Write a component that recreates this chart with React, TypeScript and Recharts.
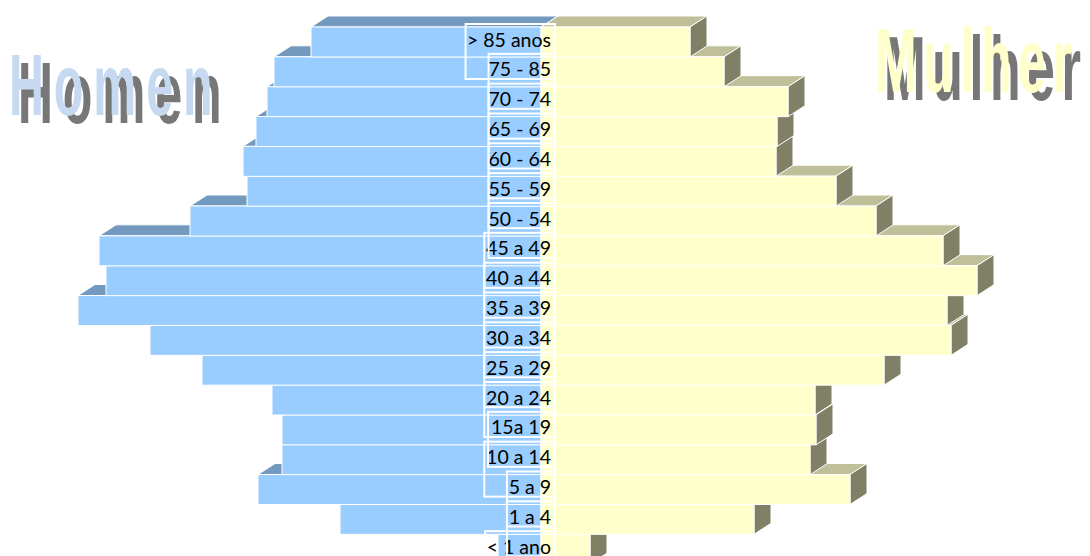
import React from 'react';
import { BarChart, Bar, XAxis, YAxis, LabelList } from 'recharts';

// faixas etárias, da mais nova para a mais velha
const ageGroups = [
  '< 1 ano', '1 a 4', '5 a 9', '10 a 14', '15a 19', '20 a 24', '25 a 29', '30 a 34', '35 a 39',
  '40 a 44', '45 a 49', '50 - 54', '55 - 59', '60 - 64', '65 - 69', '70 - 74', '75 - 85', '> 85 anos',
];
const homens = [43, 201, 283, 259, 259, 269, 339, 391, 463, 435, 442, 351, 294, 298, 285, 274, 267, 230];
const mulheres = [49, 213, 309, 269, 275, 274, 343, 410, 406, 436, 402, 335, 295, 235, 236, 247, 183, 149];

const data = ageGroups.map((age, i) => ({
  age,
  homens: -homens[i],
  mulheres: mulheres[i],
}));

const DX = 17;
const DY = -11;

function box(props: any) {
  const { x, y, width, height } = props;
  return {
    left: Math.min(x, x + width),
    top: Math.min(y, y + height),
    w: Math.abs(width),
    h: Math.abs(height),
  };
}

function MaleBar(props: any) {
  const { left, top, w, h } = box(props);
  return (
    <g>
      <polygon
        points={`${left},${top} ${left + w},${top} ${left + w + DX},${top + DY} ${left + DX},${top + DY}`}
        fill="#7399BF"
        stroke="#fff"
        strokeWidth={1}
      />
      <rect x={left} y={top} width={w} height={h} fill="#99CCFF" stroke="#fff" strokeWidth={1} />
    </g>
  );
}

function FemaleBar(props: any) {
  const { left, top, w, h } = box(props);
  const r = left + w;
  return (
    <g>
      <polygon
        points={`${left},${top} ${r},${top} ${r + DX},${top + DY} ${left + DX},${top + DY}`}
        fill="#BFBF99"
        stroke="#fff"
        strokeWidth={1}
      />
      <polygon
        points={`${r},${top} ${r + DX},${top + DY} ${r + DX},${top + h + DY} ${r},${top + h}`}
        fill="#808066"
        stroke="#fff"
        strokeWidth={1}
      />
      <rect x={left} y={top} width={w} height={h} fill="#FFFFCC" stroke="#fff" strokeWidth={1} />
    </g>
  );
}

const FONT = 19.5;
const charW: Record<string, number> = { ' ': 0.193, '-': 0.29, a: 0.51, n: 0.56, o: 0.56, s: 0.42 };
const textWidth = (s: string) =>
  s.split('').reduce((sum, c) => sum + (charW[c] ?? 0.58), 0) * FONT;

function AgeLabel(props: any) {
  const { x, y, height, value } = props;
  const top = Math.min(y, y + height);
  const cy = top + Math.abs(height) / 2 - 3;
  const ax = x + 10;
  const tw = textWidth(String(value));
  return (
    <g>
      <rect x={ax - tw - 4} y={top - 3} width={tw + 8} height={55} fill="none" stroke="#fff" strokeWidth={2} />
      <text x={ax} y={cy} textAnchor="end" dominantBaseline="central" fontFamily="Lato" fontSize={FONT} fill="#000">
        {value}
      </text>
    </g>
  );
}

function Title({ x, y, label, fill, size, spacing }: any) {
  const common = {
    fontFamily: 'Liberation Sans',
    fontWeight: 'bold',
    fontSize: size,
    letterSpacing: spacing,
  };
  return (
    <g>
      <text transform={`translate(${x + 9},${y + 8}) scale(0.55,1)`} fill="#777777" {...common}>
        {label}
      </text>
      <text transform={`translate(${x},${y}) scale(0.55,1)`} fill={fill} {...common}>
        {label}
      </text>
    </g>
  );
}

export default function App() {
  return (
    <div style={{ position: 'absolute', left: 0, top: 0, width: 1090, height: 556, overflow: 'hidden', background: '#fff' }}>
      <BarChart
        width={1090}
        height={566}
        data={data}
        layout="vertical"
        stackOffset="sign"
        barCategoryGap={0}
        barGap={0}
        margin={{ top: 27, right: 49, left: 41, bottom: 2 }}
      >
        <XAxis type="number" domain={[-500, 500]} hide />
        <YAxis type="category" dataKey="age" reversed hide />
        <Title x={9} y={115} label="Homen" fill="#C6D9F1" size={88} spacing={18} />
        <Title x={875} y={92} label="Mulher" fill="#FFFFCC" size={91} spacing={12} />
        <Bar dataKey="homens" stackId="p" isAnimationActive={false} shape={(p: any) => <MaleBar {...p} />} />
        <Bar dataKey="mulheres" stackId="p" isAnimationActive={false} shape={(p: any) => <FemaleBar {...p} />}>
          <LabelList dataKey="age" content={(p: any) => <AgeLabel {...p} />} />
        </Bar>
      </BarChart>
    </div>
  );
}
